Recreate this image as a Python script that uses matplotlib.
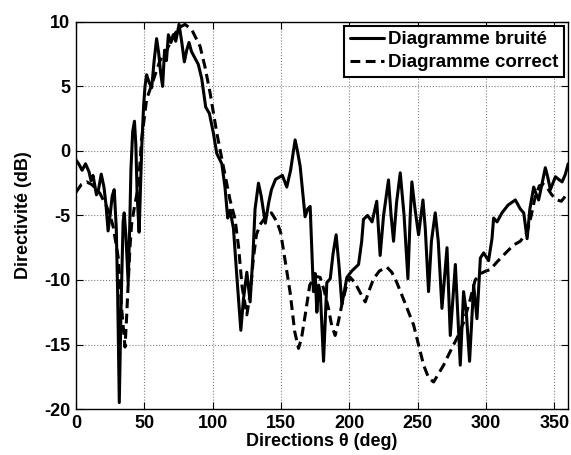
import matplotlib
matplotlib.use('Agg')
import matplotlib.pyplot as plt

plt.rcParams['font.family'] = ['Liberation Sans', 'DejaVu Sans']
plt.rcParams['font.weight'] = 'bold'
plt.rcParams['font.size'] = 13
plt.rcParams['axes.unicode_minus'] = False

# diagramme bruité (mesuré)
theta_bruite = [0, 2, 4.5, 7, 9.5, 11, 12.5, 15, 16.5, 18.5, 20.5, 22, 23.5, 25, 26.5, 28,
                29.5, 30.5, 31.7, 33, 34.5, 35.3, 36.5, 38.2, 39.3, 40.2, 41.5, 42.8, 43.8,
                44.8, 46.2, 47.2, 48.2, 49.5, 50.5, 51.7, 53.5, 55.4, 57.2, 59, 60.5, 62,
                63.4, 64.8, 66.2, 67.6, 69.5, 71.2, 73, 75.4, 77.3, 79.3, 81, 82.7, 84.5,
                86.5, 89.5, 92, 94.9, 97.6, 100.5, 103, 106.7, 109, 111, 112.7, 115.2, 117.6,
                120.6, 122.5, 125, 127.4, 129.5, 131, 133.5, 135.5, 138.5, 141, 143, 146,
                149.3, 151, 154.2, 157, 160.3, 162, 164, 167.6, 169.5, 171.3, 173.7, 175,
                176.2, 177.5, 178.7, 181.1, 183.5, 186, 188, 190.3, 192.5, 194.5, 198.2,
                201.8, 206.7, 209, 210.3, 213.3, 216.6, 220, 222.5, 225, 228.6, 230.5, 232.3,
                234.5, 237.2, 240, 242.8, 244.5, 245.7, 248, 250.6, 253.8, 255.5, 257.9, 260,
                262.8, 265, 267.7, 271.4, 273.8, 277.5, 281.1, 283.5, 285.5, 287.9, 290.9,
                293.3, 295.8, 298.2, 301.8, 304.3, 305.5, 308, 311.6, 316, 321.4, 325, 327.5,
                330, 332, 334.8, 336.5, 338.4, 341, 343.3, 345, 347, 350.7, 353, 355.6, 358, 360]
d_bruite = [-0.7, -1.0, -1.5, -1.0, -1.6, -2.3, -1.9, -3.4, -3.0, -1.8, -2.8, -4.2, -6.2, -5.0, -3.5, -3.0,
            -6.0, -11.0, -19.5, -12.0, -5.5, -4.8, -6.5, -10.2, -6.0, -1.5, 1.5, 2.3, 0.5,
            -3.5, -6.3, -3.0, 0.5, 3.5, 5.0, 5.9, 5.3, 4.9, 7.0, 8.7, 7.6, 6.0,
            5.0, 7.8, 7.0, 9.0, 8.4, 9.0, 8.5, 9.8, 8.5, 6.9, 7.8, 8.4, 7.7,
            7.3, 6.7, 5.6, 3.4, 2.9, 1.4, -0.2, -1.0, -2.8, -5.2, -4.6, -6.0, -9.6,
            -13.9, -11.5, -9.4, -11.7, -8.0, -4.5, -2.5, -3.5, -5.6, -4.0, -3.0, -2.2,
            -2.0, -1.9, -2.8, -1.5, 0.85, 0.0, -1.2, -5.1, -4.5, -4.3, -10.9, -9.5,
            -12.5, -10.4, -10.9, -16.3, -10.2, -9.9, -8.0, -6.5, -9.0, -11.9, -9.8,
            -9.3, -8.8, -7.0, -5.3, -5.0, -5.5, -3.9, -8.1, -5.0, -2.25, -5.0, -7.0,
            -4.0, -1.7, -5.0, -9.9, -5.0, -2.4, -4.5, -6.5, -3.8, -6.0, -10.9, -7.0,
            -4.8, -7.0, -12.2, -7.5, -14.3, -8.8, -16.6, -10.9, -12.5, -16.3, -10.4,
            -13.0, -8.3, -7.9, -8.5, -6.8, -5.2, -5.5, -4.8, -4.2, -3.8, -4.5, -4.8,
            -6.8, -4.5, -2.8, -3.3, -3.8, -2.5, -1.3, -2.0, -3.0, -2.0, -2.2, -2.4, -1.8, -1.0]

# diagramme correct (théorique)
theta_correct = [0, 4, 7.8, 11.5, 14.5, 17.6, 20, 22.4, 25, 27.3, 29, 31, 33.4, 35.9, 37, 38.3,
                 39.5, 40.7, 43, 45.6, 48, 51.7, 56.6, 61.5, 66.4, 71.2, 76.1, 79.8, 84.7,
                 90.8, 94.4, 98.1, 103, 107.8, 112.7, 116.4, 119, 121.5, 125, 127.5, 129.8,
                 132, 134.7, 139.6, 143, 147, 149.7, 153, 156.7, 160, 162.8, 165, 168, 171,
                 175, 178.6, 181.5, 184.7, 187, 189.6, 192, 194.5, 197.5, 200.6, 204, 208,
                 211.6, 214.5, 217.7, 222, 227.4, 231, 234.7, 240, 247, 254.3, 258, 261.6,
                 265, 268.9, 273, 278.7, 283.5, 288.4, 292, 296, 300, 303, 308, 315.3, 320,
                 325, 330, 333, 336, 339, 342, 345, 348, 351.9, 355, 358, 360]
d_correct = [-3.2, -2.6, -2.4, -2.6, -2.9, -3.3, -3.8, -4.3, -5.0, -5.9, -7.0, -8.3, -12.2, -15.2, -13.0, -10.1,
             -7.5, -5.7, -4.2, -2.8, 0.85, 4.0, 5.5, 7.0, 7.8, 8.9, 9.6, 9.8, 9.4,
             8.1, 6.5, 4.5, 1.4, -1.2, -3.8, -5.3, -7.5, -10.5, -12.7, -11.0, -8.3,
             -6.5, -5.7, -5.0, -4.8, -5.5, -6.3, -8.5, -11.0, -14.0, -15.3, -14.5, -12.5, -10.4,
             -9.7, -9.8, -10.8, -12.2, -13.5, -14.3, -13.2, -11.9, -10.6, -9.8, -10.2, -11.0,
             -11.7, -10.8, -9.9, -9.3, -9.0, -9.4, -10.2, -11.6, -13.5, -16.6, -17.6, -17.9,
             -17.3, -16.6, -15.7, -14.5, -13.3, -11.5, -10.0, -9.5, -9.3, -9.2, -8.6, -7.8, -7.3,
             -7.0, -6.3, -5.0, -3.5, -2.7, -2.6, -2.9, -3.4, -3.8, -3.9, -3.5, -3.2]

x_ticks = [0, 50, 100, 150, 200, 250, 300, 350]
y_ticks = [-20, -15, -10, -5, 0, 5, 10]

fig = plt.figure(figsize=(5.71, 4.55), dpi=100)
ax = fig.add_axes([0.133, 0.101, 0.862, 0.851])

ax.plot(theta_bruite, d_bruite, color='black', lw=2.2, ls='-',
        solid_joinstyle='round', solid_capstyle='round', label='Diagramme bruité')
ax.plot(theta_correct, d_correct, color='black', lw=2.2, ls=(0, (3.2, 1.8)),
        dash_joinstyle='round', label='Diagramme correct')

ax.set_xlim(0, 360)
ax.set_ylim(-20, 10)
ax.set_xticks(x_ticks)
ax.set_yticks(y_ticks)
ax.grid(True, ls=':', color='#808080', lw=0.8)
ax.tick_params(direction='in', length=5, top=True, right=True, labelsize=13, pad=4)
for s in ax.spines.values():
    s.set_linewidth(1.0)

ax.set_xlabel('Directions θ (deg)', fontsize=13, fontweight='bold', labelpad=1)
ax.set_ylabel('Directivité (dB)', fontsize=13, fontweight='bold', labelpad=9)

leg = ax.legend(loc='upper right', fancybox=False, framealpha=1, edgecolor='black',
                borderaxespad=0.2, borderpad=0.3, labelspacing=0.3,
                handlelength=1.8, handletextpad=0.25, fontsize=13.5)
leg.get_frame().set_linewidth(1.5)

fig.savefig('out.png', dpi=100)
